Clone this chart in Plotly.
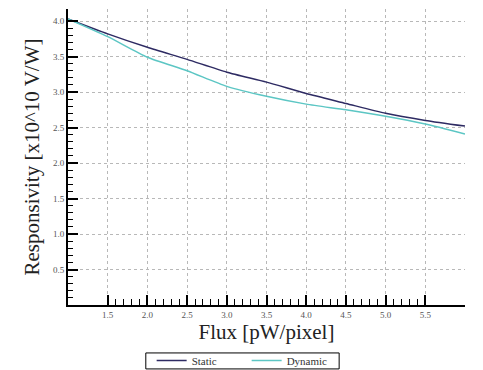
import plotly.graph_objects as go

# Flux sample points [pW/pixel]
flux = [1.0, 1.5, 2.0, 2.5, 3.0, 3.5, 4.0, 4.5, 5.0, 5.5, 6.0]

# Responsivity [x10^10 V/W]
static_resp = [4.03, 3.82, 3.63, 3.46, 3.28, 3.14, 2.98, 2.84, 2.70, 2.60, 2.52]
dynamic_resp = [4.03, 3.78, 3.49, 3.30, 3.08, 2.94, 2.83, 2.75, 2.66, 2.55, 2.41]

x_ticks = [1.5, 2.0, 2.5, 3.0, 3.5, 4.0, 4.5, 5.0, 5.5]
y_ticks = [0.5, 1.0, 1.5, 2.0, 2.5, 3.0, 3.5, 4.0]

x_minor = [round(1.5 + 0.1 * i, 1) for i in range(41) if i % 5]
y_minor = [round(0.1 * i, 1) for i in range(1, 40) if i % 5]

serif = "Liberation Serif, Times New Roman, serif"

fig = go.Figure()
fig.add_trace(go.Scatter(x=flux, y=static_resp, mode="lines", name="Static",
                         line=dict(color="#2e2b63", width=1.5, shape="spline", smoothing=0.6)))
fig.add_trace(go.Scatter(x=flux, y=dynamic_resp, mode="lines", name="Dynamic",
                         line=dict(color="#5cc6c4", width=1.5, shape="spline", smoothing=0.6)))

axis_common = dict(
    showline=True, linecolor="black", linewidth=2,
    ticks="inside", ticklen=10, tickwidth=1.5, tickcolor="black",
    showgrid=True, gridcolor="#b8b8b8", griddash="dot", gridwidth=1,
    zeroline=False, tickformat=".1f",
    tickfont=dict(family=serif, size=9, color="#555"),
)

fig.update_xaxes(
    **axis_common, range=[1.0, 6.0], tickmode="array", tickvals=x_ticks,
    minor=dict(tickmode="array", tickvals=x_minor, ticks="inside", ticklen=6,
               tickwidth=1.2, tickcolor="black", showgrid=False),
    title=dict(text="Flux [pW/pixel]", font=dict(family=serif, size=21, color="#222"),
               standoff=5),
)
fig.update_yaxes(
    **axis_common, range=[0, 4.17], tickmode="array", tickvals=y_ticks,
    minor=dict(tickmode="array", tickvals=y_minor, ticks="inside", ticklen=5,
               tickwidth=1.2, tickcolor="black", showgrid=False),
    title=dict(text="Responsivity [x10^10 V/W]", font=dict(family=serif, size=21, color="#222"),
               standoff=8),
)

# Thin frame around the legend entries
fig.add_shape(type="rect", xref="paper", yref="paper",
              x0=0.196, x1=0.683, y0=-0.216, y1=-0.162,
              line=dict(color="black", width=1), fillcolor="rgba(0,0,0,0)", layer="above")

fig.update_layout(
    width=483, height=370,
    margin=dict(l=68, r=18, t=9, b=65, autoexpand=False),
    paper_bgcolor="white", plot_bgcolor="white",
    showlegend=True,
    legend=dict(orientation="h", x=0.45, xanchor="center", y=-0.1385, yanchor="top",
                borderwidth=0, bgcolor="rgba(0,0,0,0)",
                font=dict(family=serif, size=11, color="#333"),
                entrywidth=50, entrywidthmode="pixels",
                itemwidth=30, tracegroupgap=0),
)

fig.write_html("out.html")
